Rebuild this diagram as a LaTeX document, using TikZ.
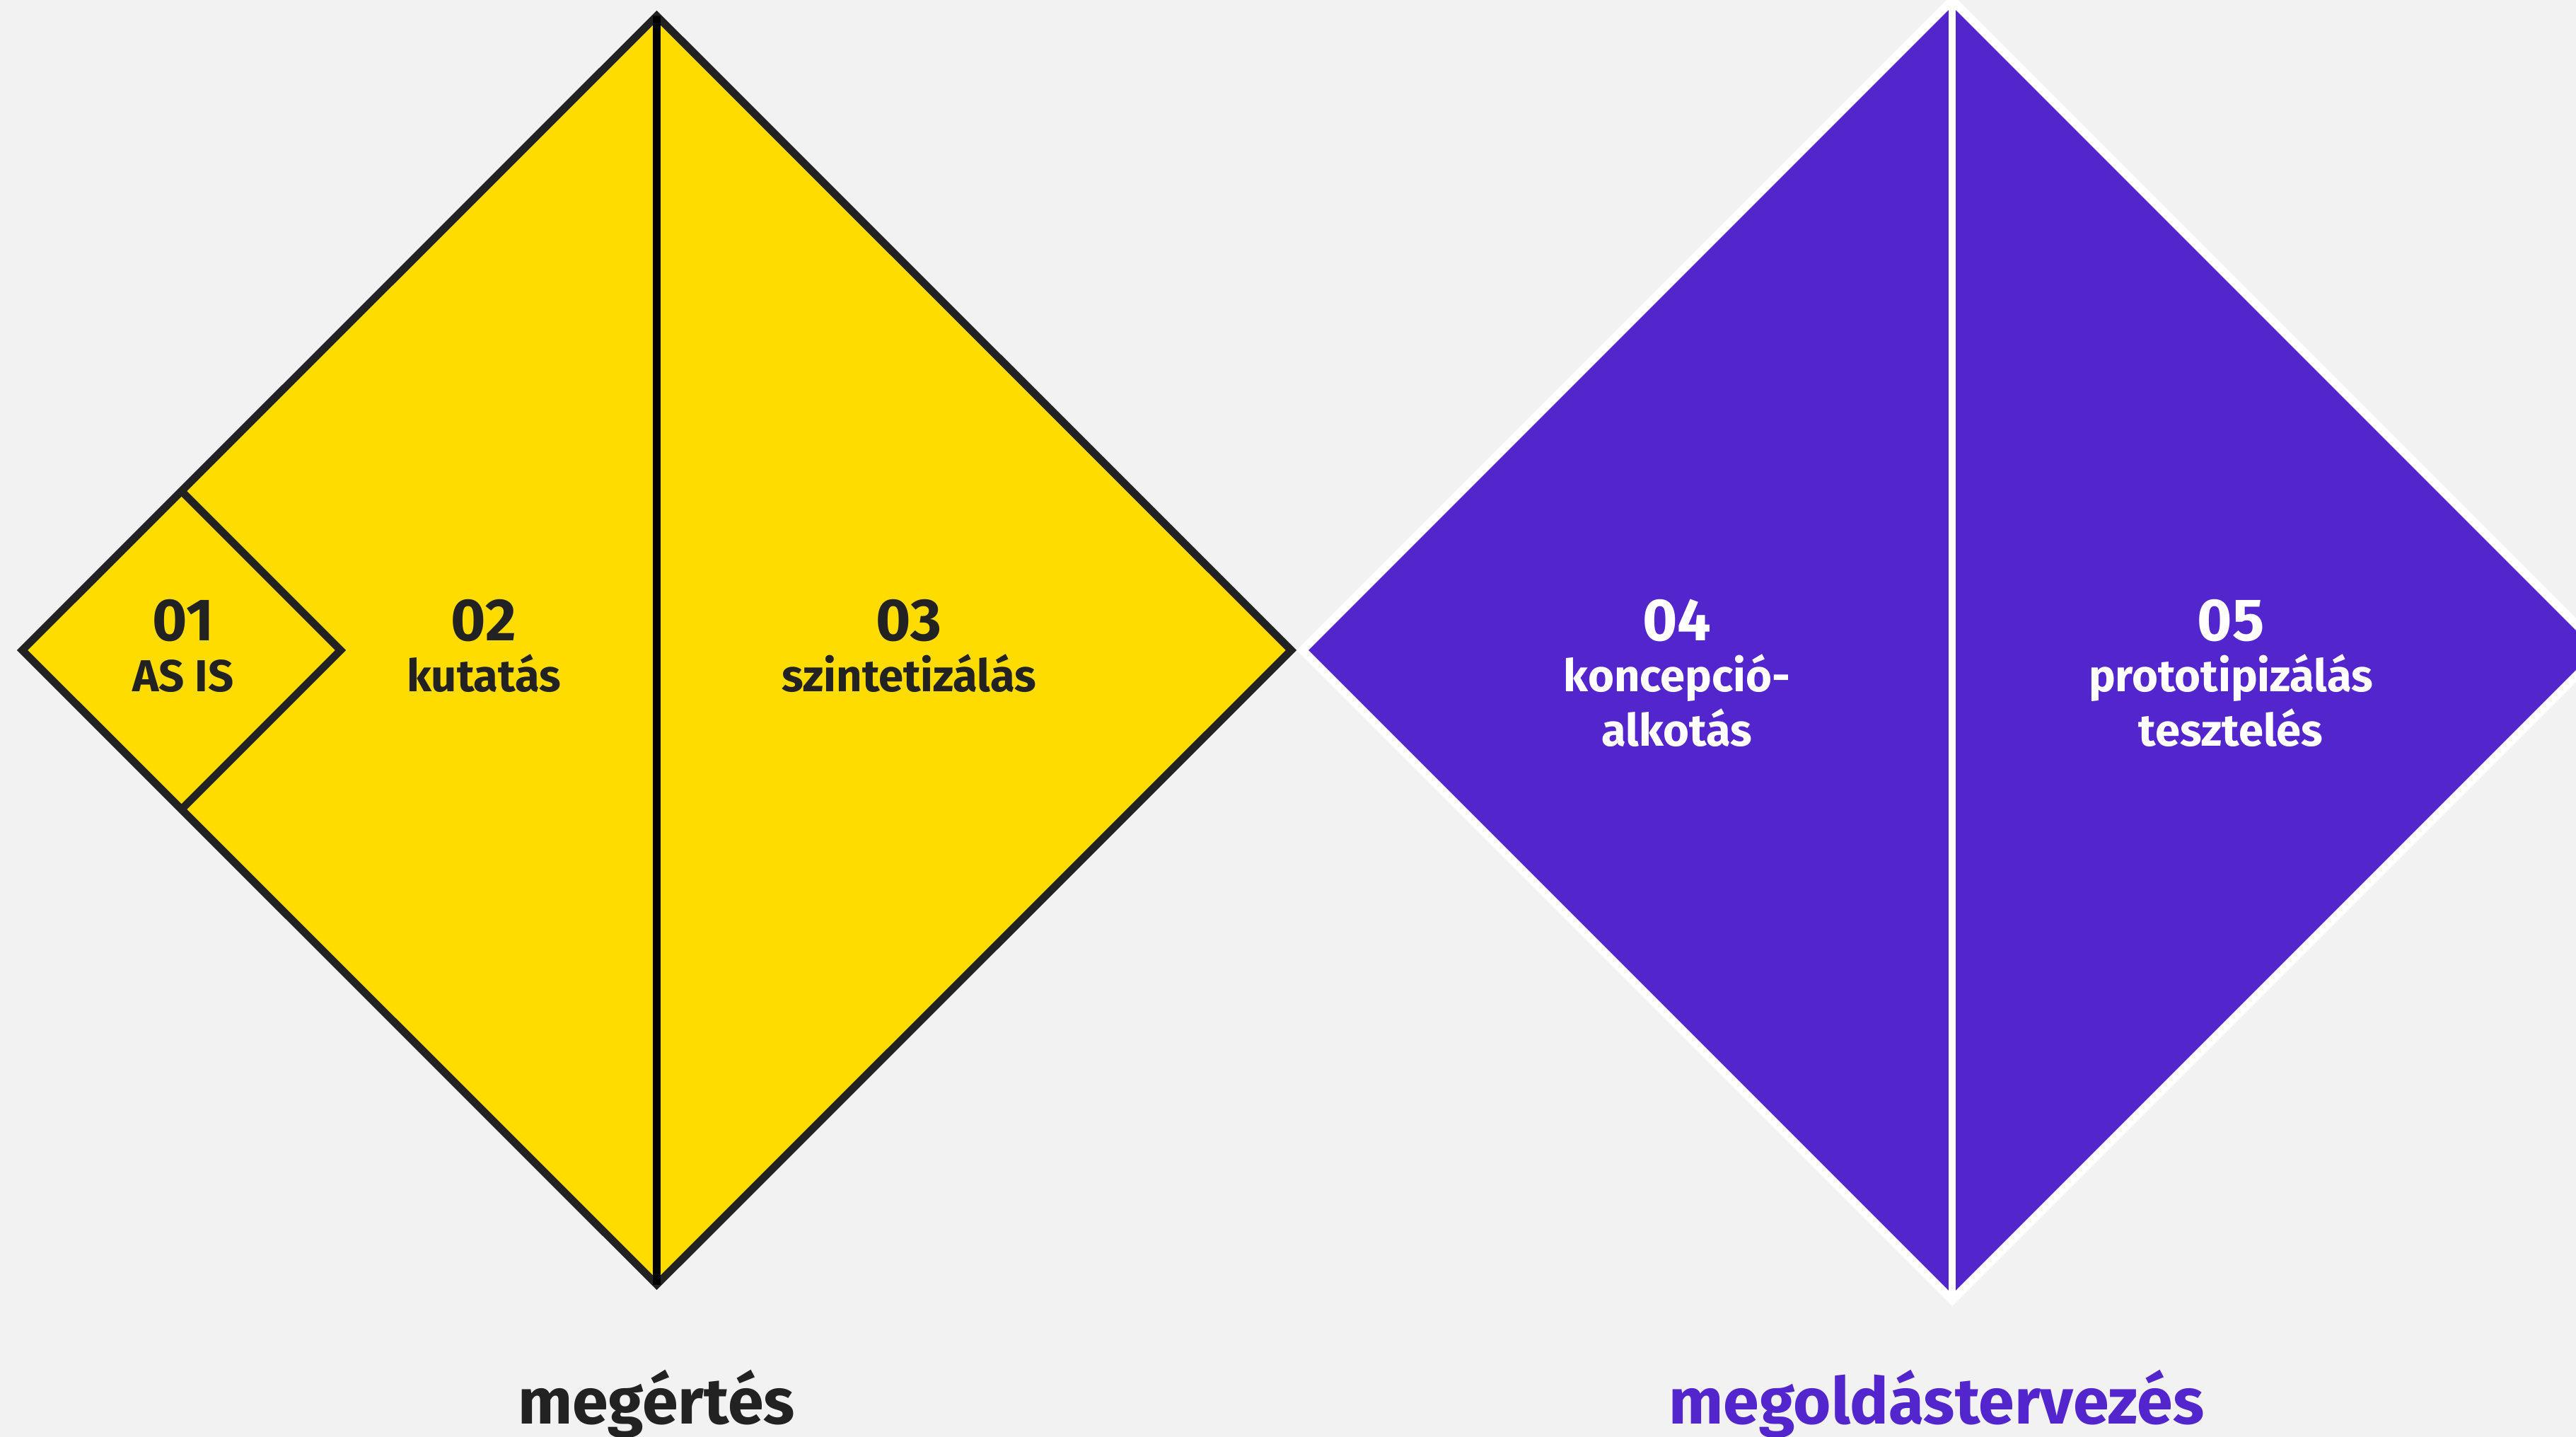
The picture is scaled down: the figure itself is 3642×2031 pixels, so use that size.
\documentclass[tikz,border=0pt]{standalone}
\usepackage{fontspec}
\setmainfont{Fira Sans}
\definecolor{bgray}{HTML}{F2F2F2}
\definecolor{dyellow}{HTML}{FFDC00}
\definecolor{dpurple}{HTML}{5325CC}
\definecolor{dink}{HTML}{222222}
\tikzset{
  phasenum/.style={font=\bfseries\fontsize{24}{24}\selectfont, anchor=base},
  phaselab/.style={font=\bfseries\fontsize{18}{21.8}\selectfont, anchor=base, align=center},
  stagelab/.style={font=\bfseries\fontsize{26}{26}\selectfont, anchor=base},
}

\begin{document}
\begin{tikzpicture}[x=0.01cm,y=-0.01cm]
\path[fill=bgray,use as bounding box] (0,0) rectangle (3642,2031);
\clip (0,0) rectangle (3642,2031);
% megertes diamond
\coordinate (yl) at (31.5,919);
\coordinate (yt) at (928.5,22.5);
\coordinate (yr) at (1825.5,919);
\coordinate (yb) at (928.5,1815.5);
\coordinate (st) at (256.5,694);
\coordinate (sr) at (481.5,919);
\coordinate (sb) at (256.5,1144);
\filldraw[fill=dyellow, draw=dink, line width=3.1pt] (yl) -- (yt) -- (yr) -- (yb) -- cycle;
\draw[dink, line width=3.1pt] (st) -- (sr) -- (sb);
\draw[black, line width=3.1pt] (yt) -- (yb);
% megoldastervezes diamond
\coordinate (pl) at (1841.5,919);
\coordinate (pt) at (2760,0.5);
\coordinate (pr) at (3678.5,919);
\coordinate (pb) at (2760,1837.5);
\filldraw[fill=dpurple, draw=white, line width=3.4pt] (pl) -- (pt) -- (pr) -- (pb) -- cycle;
\draw[white, line width=3.1pt] (pt) -- (pb);
% labels (base of a two-line node is its last line)
\path (259,905) node[phasenum, dink] (n01) {01};
\path (259,977) node[phaselab, dink] (l01) {AS IS};
\path (684,905) node[phasenum, dink] (n02) {02};
\path (684,977) node[phaselab, dink] (l02) {kutatás};
\path (1285,905) node[phasenum, dink] (n03) {03};
\path (1285,977) node[phaselab, dink] (l03) {szintetizálás};
\path (2371,905) node[phasenum, white] (n04) {04};
\path (2371,1054) node[phaselab, white] (l04) {koncepció-\\alkotás};
\path (3154,905) node[phasenum, white] (n05) {05};
\path (3154,1054) node[phaselab, white] (l05) {prototipizálás\\tesztelés};
\path (928,2012) node[stagelab, dink] (s1) {megértés};
\path (2738,2012) node[stagelab, dpurple] (s2) {megoldástervezés};
\end{tikzpicture}
\end{document}
